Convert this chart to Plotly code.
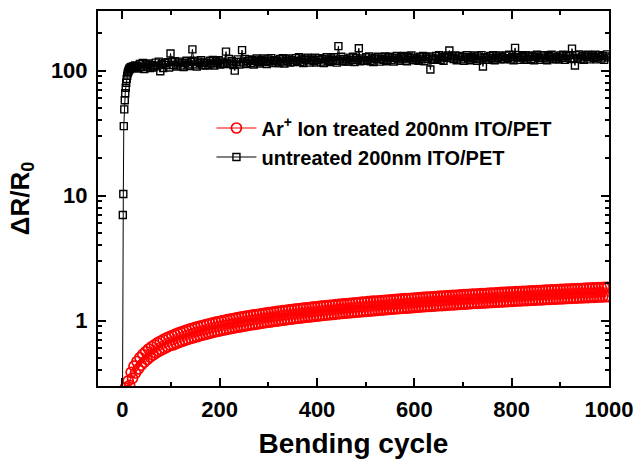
import plotly.graph_objects as go

# ---------------- data ----------------
# untreated 200nm ITO/PET : early cycles (dense) and later cycles (every 3)
black_cycles_early = [0, 1, 2, 3, 4, 5, 6, 7, 8, 9, 10, 11, 12, 13, 14, 15, 16, 17, 18, 19, 20, 22, 24, 26, 28]
black_vals_early = [0.1, 7.0, 10.3, 36, 49, 58, 66, 73, 80, 86, 91, 95, 98, 100, 102, 104, 103, 106, 105, 107,
                    106, 108, 107, 110, 106]
black_cycles_late = list(range(30, 1000, 3))
black_vals_late = [
    109, 104, 113, 107, 115, 103, 112, 108, 114, 105, 111, 106,
    108, 116, 110, 118, 99, 113, 105, 115, 111, 117, 106, 137,
    117, 111, 119, 108, 114, 118, 110, 116, 107, 115, 120, 112,
    109, 117, 148, 120, 112, 108, 118, 115, 121, 111, 116, 110,
    116, 111, 120, 114, 122, 110, 119, 115, 121, 112, 118, 113,
    114, 142, 116, 124, 113, 119, 111, 100, 117, 123, 112, 118,
    146, 116, 124, 113, 119, 123, 115, 121, 112, 120, 125, 117,
    114, 122, 119, 125, 117, 113, 123, 120, 126, 116, 121, 115,
    120, 115, 124, 118, 126, 114, 123, 119, 125, 116, 122, 117,
    118, 126, 120, 128, 117, 123, 115, 125, 121, 127, 116, 122,
    125, 119, 127, 116, 122, 126, 118, 124, 115, 123, 128, 120,
    117, 125, 122, 128, 120, 116, 157, 123, 129, 119, 124, 118,
    123, 118, 127, 121, 129, 117, 126, 122, 151, 119, 125, 120,
    120, 128, 122, 130, 119, 125, 117, 127, 123, 129, 118, 124,
    128, 122, 130, 119, 125, 129, 121, 127, 118, 126, 131, 123,
    120, 128, 125, 131, 123, 119, 129, 126, 132, 122, 127, 121,
    125, 120, 129, 123, 131, 119, 128, 124, 130, 102, 127, 122,
    123, 131, 125, 133, 122, 128, 120, 130, 126, 132, 145, 127,
    130, 124, 132, 121, 127, 131, 123, 129, 120, 128, 133, 125,
    121, 129, 126, 132, 124, 120, 130, 127, 133, 108, 128, 122,
    127, 122, 131, 125, 133, 121, 130, 126, 132, 123, 129, 124,
    124, 132, 126, 134, 123, 129, 121, 152, 127, 133, 122, 128,
    131, 125, 133, 122, 128, 132, 124, 130, 121, 129, 134, 126,
    122, 130, 127, 133, 125, 121, 131, 128, 134, 124, 129, 123,
    128, 123, 132, 126, 134, 122, 131, 127, 133, 124, 150, 125,
    110, 133, 127, 135, 124, 130, 122, 132, 128, 134, 123, 129,
    132, 126, 134, 123, 129, 133, 125, 131, 122, 130, 135, 127,
]

# Ar+ ion treated 200nm ITO/PET : upper readings at cycles 0,6,12,...,996
red_hi_cycles = list(range(0, 997, 6))
red_hi_vals = [
    0.27, 0.29, 0.330, 0.386, 0.432, 0.471, 0.506, 0.538, 0.566, 0.593,
    0.618, 0.641, 0.663, 0.684, 0.704, 0.724, 0.742,
    0.760, 0.777, 0.794, 0.810, 0.825, 0.840, 0.855, 0.869, 0.883, 0.896,
    0.910, 0.923, 0.936, 0.949, 0.961, 0.973, 0.984, 0.996, 1.007, 1.018,
    1.029, 1.040, 1.051, 1.061, 1.071, 1.081, 1.091, 1.101, 1.111, 1.120,
    1.129, 1.139, 1.148, 1.157, 1.166, 1.175, 1.184, 1.192, 1.201, 1.209,
    1.218, 1.226, 1.235, 1.243, 1.251, 1.259, 1.267, 1.274, 1.282, 1.290,
    1.297, 1.305, 1.312, 1.320, 1.327, 1.334, 1.342, 1.349, 1.356, 1.363,
    1.370, 1.376, 1.383, 1.390, 1.397, 1.404, 1.410, 1.417, 1.424, 1.430,
    1.436, 1.443, 1.449, 1.455, 1.461, 1.467, 1.474, 1.480, 1.486, 1.492,
    1.498, 1.504, 1.510, 1.516, 1.522, 1.528, 1.534, 1.540, 1.546, 1.552,
    1.557, 1.563, 1.568, 1.574, 1.579, 1.585, 1.590, 1.596, 1.601, 1.607,
    1.612, 1.618, 1.623, 1.629, 1.634, 1.639, 1.644, 1.649, 1.654, 1.659,
    1.664, 1.670, 1.675, 1.680, 1.685, 1.690, 1.695, 1.700, 1.705, 1.710,
    1.715, 1.719, 1.724, 1.729, 1.734, 1.739, 1.743, 1.748, 1.753, 1.758,
    1.762, 1.767, 1.771, 1.776, 1.781, 1.785, 1.790, 1.794, 1.799, 1.804,
    1.808, 1.813, 1.817, 1.822, 1.826, 1.831, 1.835, 1.840, 1.844, 1.847,
]
# lower readings at cycles 3,9,15,...,999
red_lo_cycles = list(range(3, 1000, 6))
red_lo_vals = [
    0.25, 0.27, 0.303, 0.346, 0.381, 0.412, 0.440, 0.465, 0.488, 0.510,
    0.530, 0.549, 0.568, 0.585, 0.601, 0.617, 0.633,
    0.640, 0.654, 0.669, 0.682, 0.695, 0.707, 0.720, 0.732, 0.743, 0.754,
    0.766, 0.777, 0.788, 0.799, 0.809, 0.819, 0.829, 0.839, 0.848, 0.857,
    0.866, 0.876, 0.885, 0.893, 0.902, 0.910, 0.919, 0.927, 0.935, 0.943,
    0.951, 0.959, 0.967, 0.974, 0.982, 0.989, 0.997, 1.004, 1.011, 1.018,
    1.026, 1.032, 1.040, 1.047, 1.053, 1.060, 1.067, 1.073, 1.079, 1.086,
    1.092, 1.099, 1.105, 1.111, 1.117, 1.123, 1.130, 1.136, 1.142, 1.148,
    1.154, 1.159, 1.164, 1.170, 1.176, 1.182, 1.187, 1.193, 1.199, 1.204,
    1.209, 1.215, 1.220, 1.225, 1.230, 1.235, 1.241, 1.246, 1.251, 1.256,
    1.261, 1.266, 1.271, 1.276, 1.282, 1.287, 1.292, 1.297, 1.302, 1.307,
    1.311, 1.316, 1.320, 1.325, 1.330, 1.335, 1.339, 1.344, 1.348, 1.353,
    1.357, 1.362, 1.367, 1.372, 1.376, 1.380, 1.384, 1.388, 1.393, 1.397,
    1.401, 1.406, 1.410, 1.415, 1.419, 1.423, 1.427, 1.431, 1.436, 1.440,
    1.444, 1.447, 1.452, 1.456, 1.460, 1.464, 1.468, 1.472, 1.476, 1.480,
    1.484, 1.488, 1.491, 1.495, 1.500, 1.503, 1.507, 1.511, 1.515, 1.519,
    1.522, 1.527, 1.530, 1.534, 1.537, 1.542, 1.545, 1.549, 1.553, 1.555,
]

x_tick_vals = [0, 200, 400, 600, 800, 1000]
y_tick_vals = [1, 10, 100]
y_tick_text = ["1", "10", "100"]
y_minor_vals = [0.3, 0.4, 0.5, 0.6, 0.7, 0.8, 0.9, 2, 3, 4, 5, 6, 7, 8, 9,
                20, 30, 40, 50, 60, 70, 80, 90, 200, 300]

red_name = "Ar<sup>+</sup> Ion treated 200nm ITO/PET"
black_name = "untreated 200nm ITO/PET"

# interleave upper/lower readings of the treated sample in cycle order
red_x, red_y = [], []
for ch, vh, cl, vl in zip(red_hi_cycles, red_hi_vals, red_lo_cycles, red_lo_vals):
    red_x += [ch, cl]
    red_y += [vh, vl]

black_x = black_cycles_early + black_cycles_late
black_y = black_vals_early + black_vals_late

# ---------------- figure ----------------
FONT = "Liberation Sans, Arial, sans-serif"
fig = go.Figure()
fig.add_trace(go.Scatter(
    x=red_x, y=red_y, mode="lines+markers", name=red_name,
    line=dict(color="#ff0000", width=1),
    marker=dict(symbol="circle-open", size=10, color="#ff0000", line=dict(width=1.7, color="#ff0000")),
))
fig.add_trace(go.Scatter(
    x=black_x, y=black_y, mode="lines+markers", name=black_name,
    line=dict(color="#000000", width=1),
    marker=dict(symbol="square-open", size=7, color="#000000", line=dict(width=1.4, color="#000000")),
))

axis_common = dict(
    showline=True, linecolor="black", linewidth=2, mirror="ticks",
    ticks="inside", tickcolor="black", tickwidth=2, ticklen=8,
    showgrid=False, zeroline=False, automargin=False,
    tickfont=dict(family=FONT, size=22, color="black", weight="bold"),
)

fig.update_layout(
    width=636, height=461,
    margin=dict(l=98, r=27, t=11, b=75),
    paper_bgcolor="white", plot_bgcolor="white",
    showlegend=True,
    legend=dict(
        x=0.222, y=0.74, xanchor="left", yanchor="top",
        bgcolor="rgba(0,0,0,0)", borderwidth=0,
        font=dict(family=FONT, size=20, color="black", weight="bold"),
        tracegroupgap=0, itemwidth=40,
    ),
    xaxis=dict(
        range=[-50, 1000], tickvals=x_tick_vals,
        minor=dict(dtick=100, tick0=0, ticks="inside", ticklen=4, tickwidth=2, tickcolor="black", showgrid=False),
        title=dict(text="Bending cycle", font=dict(family=FONT, size=28, color="black", weight="bold"), standoff=12),
        ticklabelstandoff=3,
        **axis_common,
    ),
    yaxis=dict(
        type="log", range=[-0.5229, 2.4771],
        tickvals=y_tick_vals, ticktext=y_tick_text,
        minor=dict(tickvals=y_minor_vals, ticks="inside", ticklen=4, tickwidth=2, tickcolor="black", showgrid=False),
        title=dict(text="ΔR/R<sub>0</sub>", font=dict(family=FONT, size=26, color="black", weight="bold"), standoff=14),
        ticklabelstandoff=4,
        **axis_common,
    ),
)

fig.write_html("out.html")
